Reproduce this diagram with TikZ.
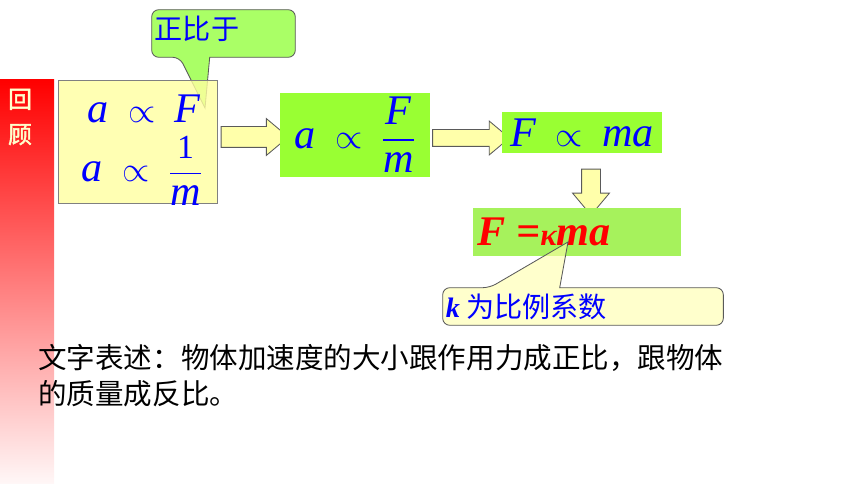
\documentclass[tikz,border=0pt]{standalone}
\usepackage{fontspec}
\usepackage{amsmath}
\newfontfamily\cjk{Noto Sans CJK SC}
\newfontfamily\cjkbold[FakeBold=2]{Noto Sans CJK SC}
\newfontfamily\formulafont{Liberation Serif}
\newcommand{\fv}[1]{\text{\formulafont\itshape #1}}
\usetikzlibrary{shapes.arrows,calc}
\definecolor{barred}{RGB}{255,0,0}
\definecolor{reviewyellow}{RGB}{255,255,204}
\definecolor{boxyellow}{RGB}{255,255,160}
\definecolor{boxgreen}{RGB}{153,255,51}
\definecolor{lawgreen}{RGB}{166,242,92}
\definecolor{callgreen}{RGB}{170,255,102}
\definecolor{callyellow}{RGB}{255,255,170}
\definecolor{textblue}{RGB}{0,0,255}
\definecolor{edgegray}{RGB}{90,90,90}
\tikzset{
  formula/.style={text=textblue, font=\fontsize{30}{34}\selectfont},
  cjktext/.style={font=\cjk\fontsize{20}{24}\selectfont},
  blockarrow/.style={single arrow, draw=edgegray, fill=callyellow, line width=0.6pt,
    single arrow tip angle=80},
  callout/.style={draw=edgegray, line width=0.6pt, rounded corners=5pt}
}
\begin{document}
\begin{tikzpicture}[x=0.025cm,y=-0.025cm]
    \useasboundingbox (0,0) rectangle (860,484);

    \shade[top color=barred, middle color=barred!50, bottom color=barred!3] (0,80) rectangle (54,484);
    \node[text=reviewyellow, font=\cjkbold\fontsize{17}{25}\selectfont, align=center] (review) at (20,117) {回\\顾};

    \node[minimum width=3.575cm, minimum height=1.175cm] (call1) at (223.5,33.5) {};
    \coordinate (tip1) at (205,108);
    \filldraw[callout, fill=callgreen] ($(call1.south west)+(58,0)$) -- (call1.south east) -- (call1.north east)
        -- (call1.north west) -- (call1.south west) -- ($(call1.south west)+(28,0)$) [sharp corners] -- (tip1) -- cycle;
    \node[cjktext, text=textblue, anchor=west, inner sep=2pt] (word1) at ($(call1.west)+(0,-5)$) {正比于};

    \node[draw=gray, fill=boxyellow, fill opacity=0.8, line width=0.6pt,
        minimum width=3.975cm, minimum height=3.075cm] (box1) at (137.5,141.5) {};
    \node[formula] (propF) at (144,109) {$\fv{a}\;\propto\;\fv{F}$};
    \node[formula] (propm) at (142,171) {$\fv{a}\;\propto\;\dfrac{\text{\formulafont\fontsize{24}{24}\selectfont 1}}{\fv{m}}$};

    \node[blockarrow, minimum height=1.68cm, inner sep=0.25cm, single arrow head extend=0.2cm] (arr1) at (248.5,137) {};

    \node[formula, fill=boxgreen, minimum width=3.75cm, minimum height=1.95cm] (box2) at (355,135) {$\fv{a}\;\propto\;\dfrac{\fv{F}}{\fv{m}}$};

    \node[blockarrow, minimum height=1.92cm, inner sep=0.2cm, single arrow head extend=0.2125cm] (arr2) at (466,138) {};

    \node[formula, fill=boxgreen, minimum width=4cm, minimum height=1.025cm] (box3) at (582,132.5) {$\fv{F}\;\propto\;\fv{ma}$};

    \node[blockarrow, shape border rotate=270, minimum height=1.15cm, inner sep=0.225cm, single arrow head extend=0.225cm] (arr3) at (591,186.5) {};

    \node[fill=lawgreen, minimum width=5.2cm, minimum height=1.2cm] (box4) at (577,232) {};
    \node[text=red, anchor=west, font=\formulafont\bfseries\itshape\fontsize{30}{34}\selectfont] (law) at (box4.west)
        {F ={\fontsize{22}{22}\selectfont κ}ma};

    \node[minimum width=7cm, minimum height=0.925cm] (call2) at (583,306.5) {};
    \coordinate (tip2) at (568,242);
    \filldraw[callout, fill=callyellow, fill opacity=0.6] ($(call2.north west)+(117,0)$) -- (call2.north east) -- (call2.south east)
        -- (call2.south west) -- (call2.north west) -- ($(call2.north west)+(47,0)$) [sharp corners] -- (tip2) -- cycle;
    \node[cjktext, text=textblue, anchor=west, inner sep=2pt] (word2) at (call2.west) {{\formulafont\bfseries\itshape k} 为比例系数};

    \node[font=\cjk\fontsize{20.3}{25.5}\selectfont, anchor=north west, align=left, inner sep=0pt] (summary) at (38,344)
        {文字表述：物体加速度的大小跟作用力成正比，跟物体\\的质量成反比。};
\end{tikzpicture}
\end{document}
